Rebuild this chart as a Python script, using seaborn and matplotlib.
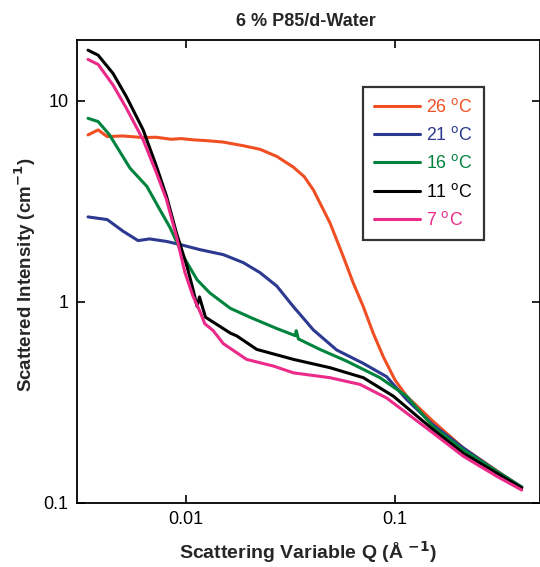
import matplotlib
matplotlib.use('Agg')
import matplotlib.pyplot as plt
import seaborn as sns
import pandas as pd

# (Q in 1/A, intensity in 1/cm)
q26 = [0.0034, 0.0038, 0.0042, 0.0050, 0.0062, 0.0072, 0.0085, 0.0095, 0.0108, 0.0125, 0.0150,
       0.0188, 0.0226, 0.0272, 0.0327, 0.0368, 0.0407, 0.0489, 0.0566, 0.0632, 0.0705, 0.0787,
       0.0879, 0.1, 0.1137, 0.152, 0.212, 0.306, 0.404]
i26 = [6.78, 7.18, 6.65, 6.70, 6.58, 6.60, 6.45, 6.50, 6.41, 6.35, 6.25,
       5.99, 5.75, 5.3, 4.68, 4.2, 3.61, 2.47, 1.68, 1.24, 0.949, 0.699,
       0.534, 0.409, 0.340, 0.255, 0.188, 0.145, 0.119]

q21 = [0.0034, 0.0042, 0.0050, 0.0059, 0.0067, 0.0081, 0.0094, 0.0117, 0.0151, 0.0188, 0.0226,
       0.0272, 0.0326, 0.0407, 0.0526, 0.0705, 0.0912, 0.1137, 0.152, 0.212, 0.306, 0.404]
i21 = [2.65, 2.57, 2.25, 2.02, 2.06, 2.0, 1.93, 1.82, 1.72, 1.57, 1.40,
       1.20, 0.95, 0.726, 0.577, 0.495, 0.425, 0.327, 0.245, 0.188, 0.144, 0.120]

q16 = [0.0034, 0.0038, 0.0043, 0.0054, 0.0065, 0.0075, 0.0084, 0.0097, 0.0113, 0.0130, 0.0163,
       0.0205, 0.027, 0.0333, 0.0337, 0.0345, 0.0437, 0.0587, 0.0848, 0.1137, 0.152, 0.212, 0.306, 0.404]
i16 = [8.2, 7.9, 6.8, 4.63, 3.76, 2.88, 2.34, 1.69, 1.29, 1.11, 0.93,
       0.835, 0.74, 0.68, 0.72, 0.655, 0.581, 0.508, 0.42, 0.340, 0.240, 0.184, 0.144, 0.120]

q11 = [0.0034, 0.0038, 0.00448, 0.00519, 0.00624, 0.00723, 0.00807, 0.0090, 0.0101, 0.0108,
       0.0113, 0.0116, 0.0124, 0.0140, 0.0163, 0.0175, 0.0218, 0.0327, 0.0489, 0.0706, 0.0982,
       0.152, 0.212, 0.306, 0.404]
i11 = [17.9, 16.9, 13.7, 10.5, 7.18, 4.72, 3.36, 2.21, 1.51, 1.16,
       0.95, 1.06, 0.84, 0.775, 0.70, 0.678, 0.581, 0.518, 0.471, 0.42, 0.340,
       0.232, 0.177, 0.141, 0.119]

q7 = [0.0034, 0.0038, 0.00448, 0.00519, 0.00624, 0.00723, 0.00807, 0.0090, 0.00989, 0.0108,
      0.0117, 0.0123, 0.0135, 0.0151, 0.0195, 0.0262, 0.0327, 0.0489, 0.068, 0.0912,
      0.152, 0.212, 0.306, 0.404]
i7 = [16.1, 15.2, 12.0, 9.2, 6.4, 4.38, 3.23, 2.12, 1.40, 1.07,
      0.89, 0.78, 0.72, 0.62, 0.518, 0.48, 0.444, 0.42, 0.389, 0.333,
      0.223, 0.171, 0.136, 0.116]

labels = ['26 $^\\mathrm{o}$C', '21 $^\\mathrm{o}$C', '16 $^\\mathrm{o}$C', '11 $^\\mathrm{o}$C', '7 $^\\mathrm{o}$C']
colors = ['#f04e23', '#2b3990', '#00843d', '#000000', '#ec2a8a']
series = [(q26, i26), (q21, i21), (q16, i16), (q11, i11), (q7, i7)]

frames = []
for lab, (q, i) in zip(labels, series):
    frames.append(pd.DataFrame({'Q': q, 'I': i, 'T': lab}))
df = pd.concat(frames, ignore_index=True)

sns.set_theme(style="ticks")
plt.rcParams['font.family'] = ['Liberation Sans', 'DejaVu Sans']

fig = plt.figure(figsize=(5.4, 5.67), dpi=100)
ax = fig.add_axes([0.1426, 0.1129, 0.8574, 0.8157])

sns.lineplot(data=df, x='Q', y='I', hue='T', palette=dict(zip(labels, colors)),
             sort=False, estimator=None, linewidth=2.2, ax=ax)

ax.set_xscale('log')
ax.set_yscale('log')
ax.set_xlim(0.003011, 0.494)
ax.set_ylim(0.1, 20.0)
ax.set_xticks([0.01, 0.1])
ax.set_xticklabels(['0.01', '0.1'])
ax.set_yticks([0.1, 1, 10])
ax.set_yticklabels(['0.1', '1', '10'])
ax.minorticks_off()
ax.tick_params(which='major', direction='in', length=6, width=1.2, labelsize=13,
               top=True, right=True, pad=6, colors='#000000')
for s in ax.spines.values():
    s.set_linewidth(1.3)
    s.set_color('#000000')
ax.set_xlabel('')
ax.set_ylabel('')

leg = ax.legend(loc='upper left', bbox_to_anchor=(0.618, 0.899), borderaxespad=0,
                fontsize=12.8, frameon=True, fancybox=False, edgecolor='black',
                handlelength=2.6, handletextpad=0.35, labelspacing=0.58, borderpad=0.6,
                labelcolor='linecolor', title=None)
leg.get_frame().set_linewidth(1.6)
for h in leg.get_lines():
    h.set_linewidth(2.2)

fig.text(0.567, 0.962, '6 % P85/d-Water', ha='center', va='center', fontsize=13, fontweight='bold')
fig.text(0.570, 0.014, 'Scattering Variable Q (Å $^{\\mathbf{-1}}$)', ha='center', va='baseline',
         fontsize=14, fontweight='bold')
fig.text(0.046, 0.515, 'Scattered Intensity (cm$^{\\mathbf{-1}}$)', ha='center', va='center',
         rotation=90, fontsize=13.5, fontweight='bold')

fig.savefig('out.png', dpi=100)
